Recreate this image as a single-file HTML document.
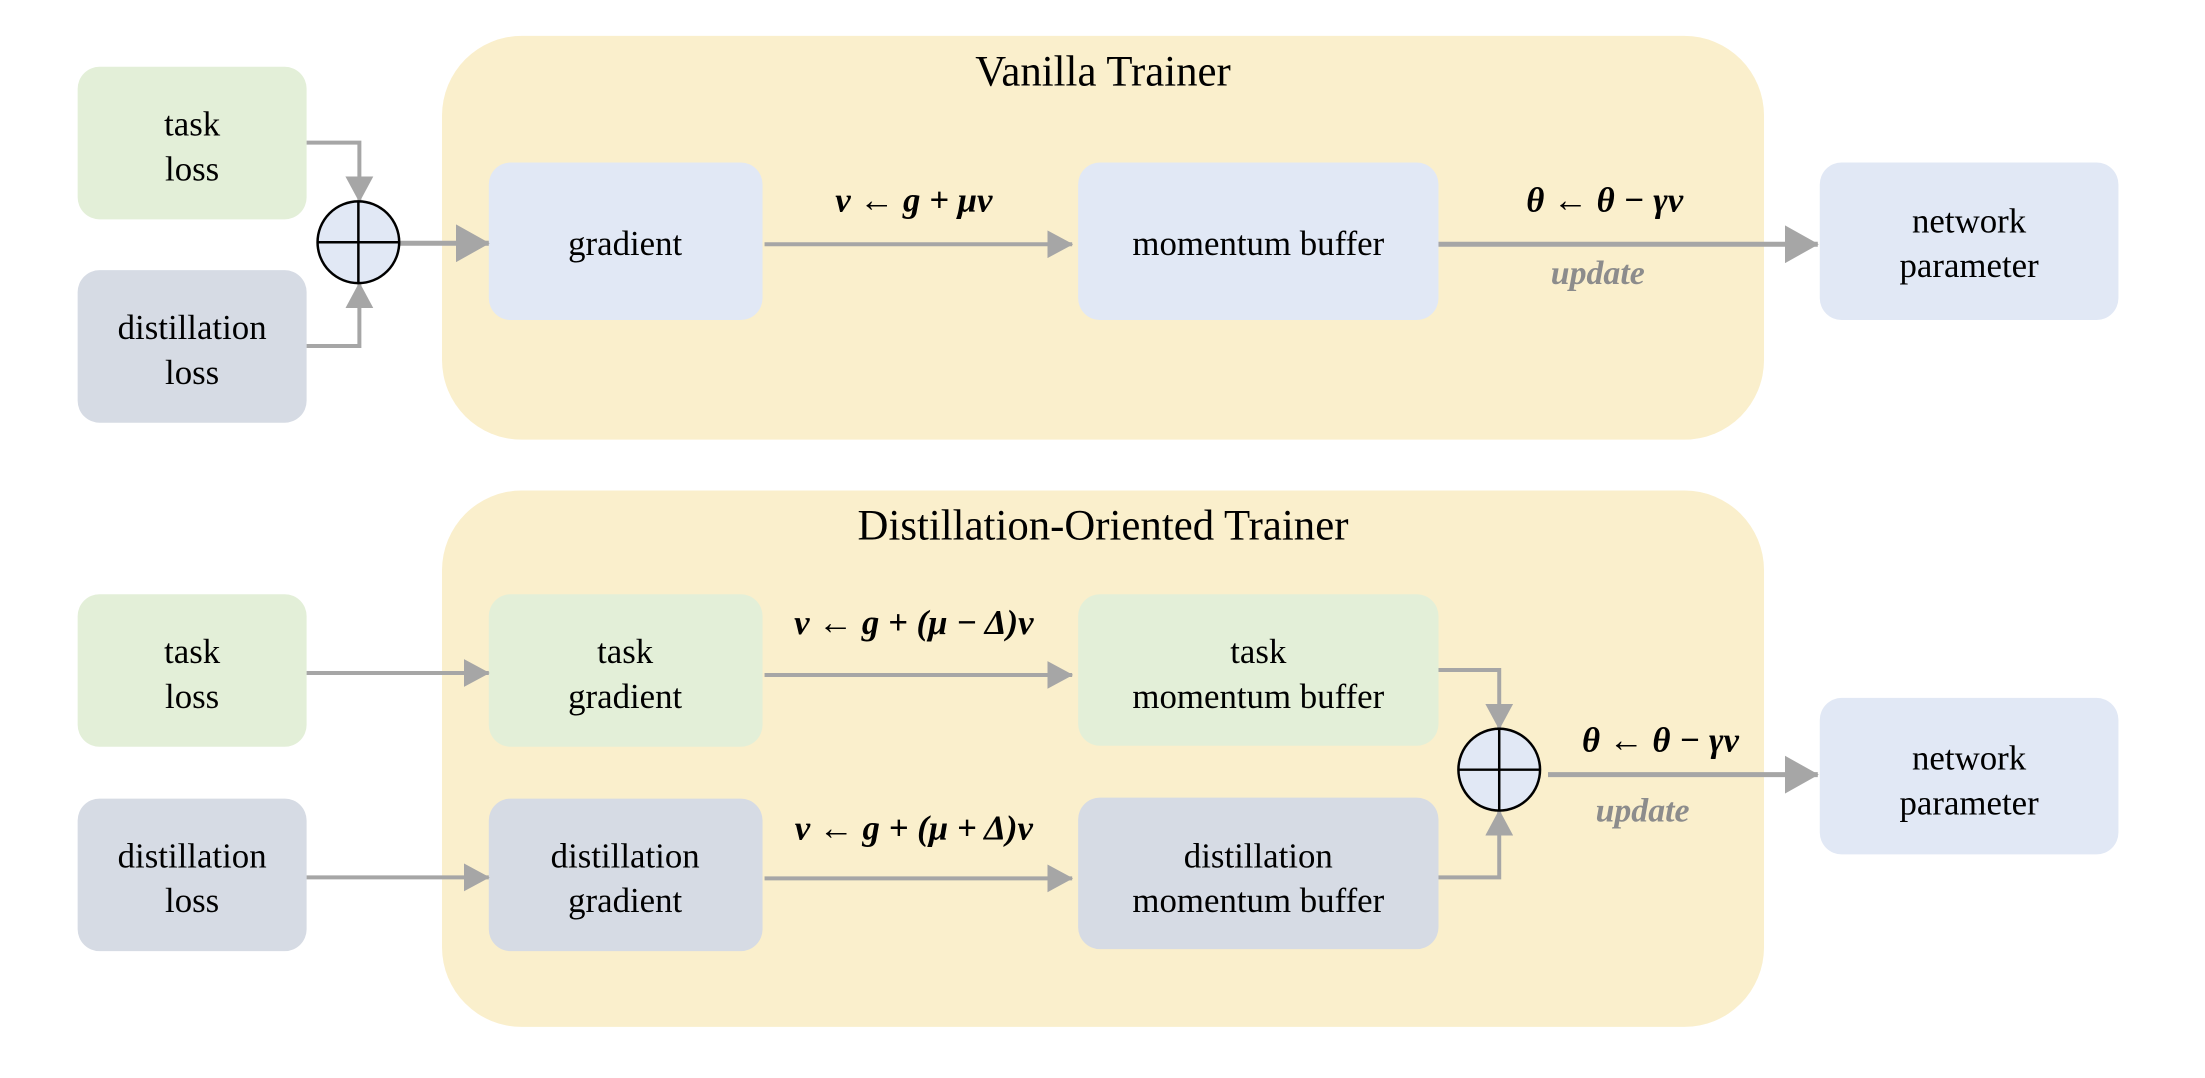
<!DOCTYPE html>
<html><head><meta charset="utf-8"><style>html,body{margin:0;padding:0;background:#fff}svg{display:block}</style></head>
<body>
<svg width="2205" height="1078" viewBox="0 0 2205 1078" xmlns="http://www.w3.org/2000/svg" font-family="'Liberation Serif', serif">
<defs>
<marker id="a" markerWidth="26" markerHeight="28" refX="25" refY="14" orient="auto" markerUnits="userSpaceOnUse" viewBox="0 0 26 28"><path d="M0,0 L26,14 L0,28 z" fill="#a6a6a6"/></marker>
<marker id="b" markerWidth="34" markerHeight="38" refX="33" refY="19" orient="auto" markerUnits="userSpaceOnUse" viewBox="0 0 34 38"><path d="M0,0 L34,19 L0,38 z" fill="#a6a6a6"/></marker>
</defs>
<g transform="scale(0.9955,0.997)">
<rect x="444" y="36" width="1328" height="405" rx="80" fill="#faefcc"/>
<rect x="444" y="492" width="1328" height="538" rx="80" fill="#faefcc"/>
<text x="1108" y="86" font-size="43" text-anchor="middle">Vanilla Trainer</text>
<text x="1108" y="541" font-size="43" text-anchor="middle">Distillation-Oriented Trainer</text>

<g font-size="35" text-anchor="middle">
<rect x="78" y="67" width="230" height="153" rx="22" fill="#e3efd8"/>
<text x="193" y="136">task</text><text x="193" y="181">loss</text>
<rect x="78" y="271" width="230" height="153" rx="22" fill="#d6dbe4"/>
<text x="193" y="340">distillation</text><text x="193" y="385">loss</text>
<rect x="491" y="163" width="275" height="158" rx="22" fill="#e1e8f5"/>
<text x="628" y="256">gradient</text>
<rect x="1083" y="163" width="362" height="158" rx="22" fill="#e1e8f5"/>
<text x="1264" y="256">momentum buffer</text>
<rect x="1828" y="163" width="300" height="158" rx="22" fill="#e1e8f5"/>
<text x="1978" y="233">network</text><text x="1978" y="278">parameter</text>

<rect x="78" y="596" width="230" height="153" rx="22" fill="#e3efd8"/>
<text x="193" y="665">task</text><text x="193" y="710">loss</text>
<rect x="78" y="801" width="230" height="153" rx="22" fill="#d6dbe4"/>
<text x="193" y="870">distillation</text><text x="193" y="915">loss</text>
<rect x="491" y="596" width="275" height="153" rx="22" fill="#e3efd8"/>
<text x="628" y="665">task</text><text x="628" y="710">gradient</text>
<rect x="491" y="801" width="275" height="153" rx="22" fill="#d6dbe4"/>
<text x="628" y="870">distillation</text><text x="628" y="915">gradient</text>
<rect x="1083" y="596" width="362" height="152" rx="22" fill="#e3efd8"/>
<text x="1264" y="665">task</text><text x="1264" y="710">momentum buffer</text>
<rect x="1083" y="800" width="362" height="152" rx="22" fill="#d6dbe4"/>
<text x="1264" y="870">distillation</text><text x="1264" y="915">momentum buffer</text>
<rect x="1828" y="700" width="300" height="157" rx="22" fill="#e1e8f5"/>
<text x="1978" y="772">network</text><text x="1978" y="817">parameter</text>
</g>

<g stroke="#a6a6a6" stroke-width="4" fill="none">
<path d="M308,143 H361 V202" marker-end="url(#a)"/>
<path d="M308,347 H361 V284" marker-end="url(#a)"/>
<path d="M401,244 H491" marker-end="url(#b)" stroke-width="5"/>
<path d="M768,245 H1077" marker-end="url(#a)"/>
<path d="M1445,245 H1826" marker-end="url(#b)" stroke-width="5"/>
<path d="M308,675 H491" marker-end="url(#a)"/>
<path d="M308,880 H491" marker-end="url(#a)"/>
<path d="M768,677 H1077" marker-end="url(#a)"/>
<path d="M768,881 H1077" marker-end="url(#a)"/>
<path d="M1445,672 H1506 V731" marker-end="url(#a)"/>
<path d="M1445,880 H1506 V813" marker-end="url(#a)"/>
<path d="M1555,777 H1826" marker-end="url(#b)" stroke-width="5"/>
</g>

<g stroke="#000" stroke-width="2.5" fill="#e1e8f5">
<circle cx="360" cy="243" r="41"/>
<path d="M319,243 H401 M360,202 V284" fill="none"/>
<circle cx="1506" cy="772" r="41"/>
<path d="M1465,772 H1547 M1506,731 V813" fill="none"/>
</g>

<g font-size="35" font-weight="bold" font-style="italic" text-anchor="middle">
<text x="918" y="212">ν ← g + μν</text>
<text x="1612" y="212">θ ← θ − γν</text>
<text x="918" y="636">ν ← g + (μ − Δ)ν</text>
<text x="918" y="842">ν ← g + (μ + Δ)ν</text>
<text x="1668" y="754">θ ← θ − γν</text>
</g>
<g font-size="34" font-weight="bold" font-style="italic" fill="#8c8c8c" text-anchor="middle">
<text x="1605" y="285">update</text>
<text x="1650" y="824">update</text>
</g>
</g>
</svg>
</body></html>
